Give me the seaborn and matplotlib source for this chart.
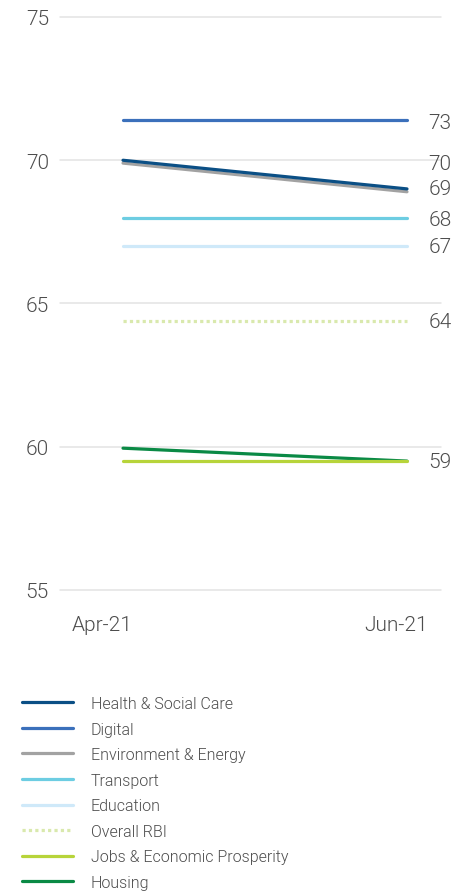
import pandas as pd
import matplotlib
matplotlib.use("Agg")
import matplotlib.pyplot as plt
from matplotlib.lines import Line2D
import seaborn as sns

# ---------------------------------------------------------------------------
# Data
# ---------------------------------------------------------------------------
periods = ["Apr-21", "Jun-21"]

sectors = [
    "Health & Social Care",
    "Digital",
    "Environment & Energy",
    "Transport",
    "Education",
    "Overall RBI",
    "Jobs & Economic Prosperity",
    "Housing",
]
apr_values = [70.0, 71.4, 69.9, 68.0, 67.0, 64.4, 59.5, 59.95]
jun_values = [69.0, 71.4, 68.9, 68.0, 67.0, 64.4, 59.5, 59.5]

colors = ["#0b4f85", "#3b70bb", "#a2a2a2", "#6dcde2",
          "#cfe9f9", "#d9e9ad", "#b7d43a", "#0a8a45"]

end_labels = ["73", "70", "69", "68", "67", "64", "59"]
end_label_y = [71.33, 69.9, 69.0, 67.94, 67.0, 64.38, 59.5]

# ---------------------------------------------------------------------------
# Build long table
# ---------------------------------------------------------------------------
rows = []
for s, a, j in zip(sectors, apr_values, jun_values):
    rows.append({"period": 0, "sector": s, "score": a})
    rows.append({"period": 1, "sector": s, "score": j})
df = pd.DataFrame(rows)

palette = dict(zip(sectors, colors))
dashes = {s: "" for s in sectors}
dashes["Overall RBI"] = (1, 1)

sns.set_style("white")
plt.rcParams["font.family"] = ["Roboto", "DejaVu Sans"]

TXT = "#4d4d4d"
W, H = 455, 895
fig = plt.figure(figsize=(W / 100, H / 100), dpi=100)
ax = fig.add_axes([60 / W, 1 - 591 / H, (441 - 60) / W, (591 - 18) / H])

sns.lineplot(
    data=df, x="period", y="score", hue="sector",
    hue_order=sectors[::-1], palette=palette,
    style="sector", dashes=dashes, legend=False,
    linewidth=2.3, ax=ax, solid_capstyle="round",
)

ax.set_ylim(55, 75)
ax.set_xlim(-(123 - 60) / 284, 1 + (441 - 407) / 284)
ax.set_yticks([55, 60, 65, 70, 75])
# category labels sit a little inside the line ends, as in the original
ax.set_xticks([-21 / 284, 1 - 11 / 284])
ax.set_xticklabels(periods)
for y in [55, 60, 65, 70, 75]:
    ax.axhline(y, color="#e3e3e3", lw=1.1, zorder=0, clip_on=False)
for sp in ax.spines.values():
    sp.set_visible(False)
ax.set_xlabel("")
ax.set_ylabel("")
ax.tick_params(axis="both", length=0, labelsize=15, colors=TXT)
ax.tick_params(axis="y", pad=8)
ax.tick_params(axis="x", pad=18)
for t in ax.get_xticklabels() + ax.get_yticklabels():
    t.set_fontweight(300)

for txt, y in zip(end_labels, end_label_y):
    ax.text(1.075, y, txt, fontsize=15, color=TXT, fontweight=300,
            va="center", ha="left", clip_on=False)

# Legend
handles = []
for s, c in zip(sectors, colors):
    if s == "Overall RBI":
        handles.append(Line2D([], [], color=c, lw=2.3, dashes=(1, 1)))
    else:
        handles.append(Line2D([], [], color=c, lw=2.3))
leg = fig.legend(
    handles, sectors, loc="upper left",
    bbox_to_anchor=(22 / W, 1 - 697 / H), frameon=False,
    fontsize=11.5, handlelength=3.2, handletextpad=1.1,
    labelspacing=0.66, borderaxespad=0, borderpad=0,
)
for t in leg.get_texts():
    t.set_color(TXT)
    t.set_fontweight(300)

fig.savefig("out.png", dpi=100)
